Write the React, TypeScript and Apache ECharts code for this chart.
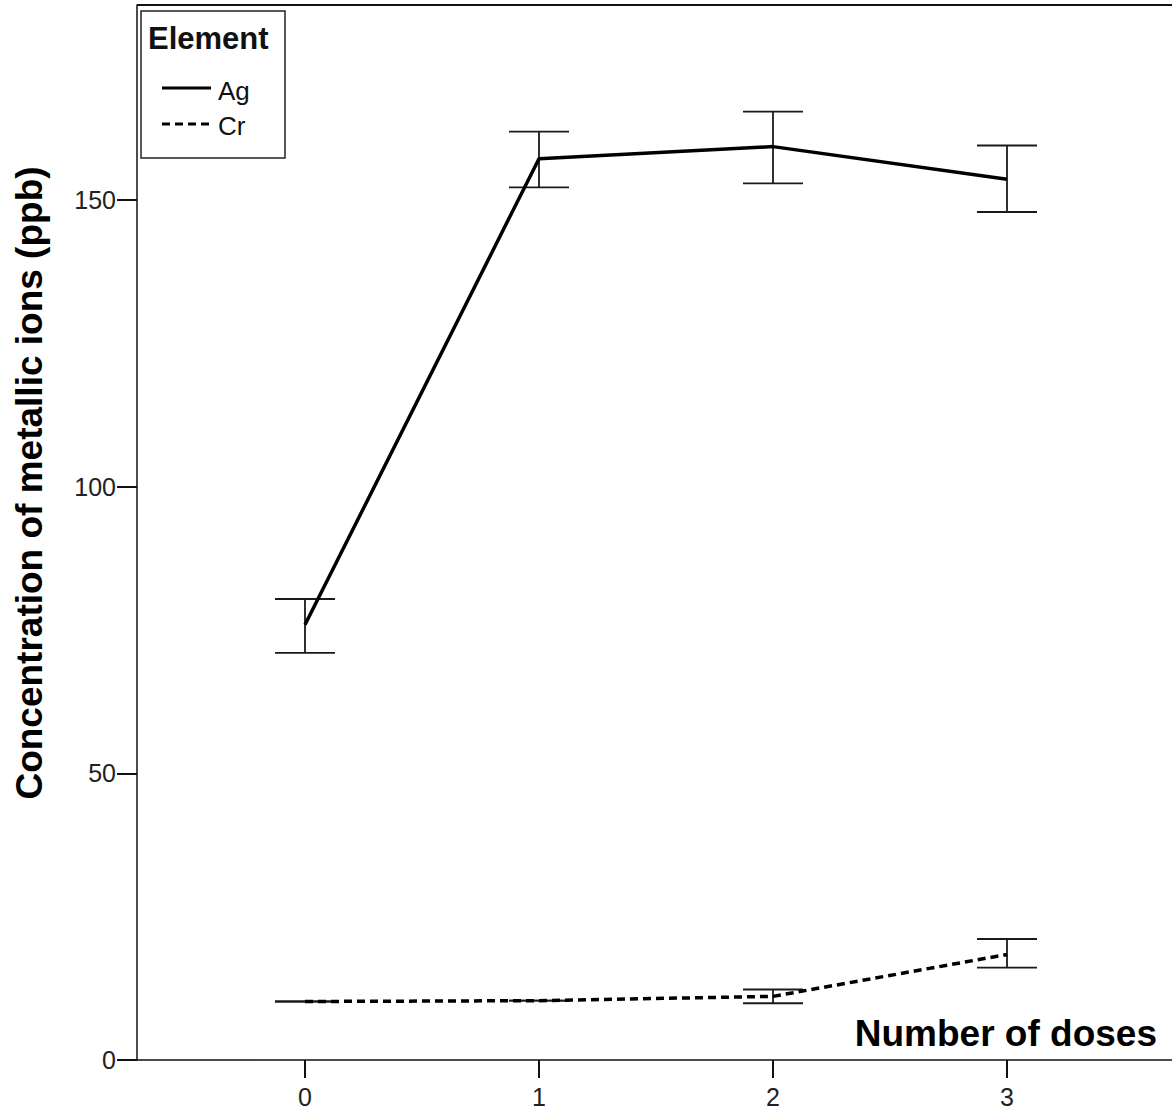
import React, { useEffect, useRef } from "react";
import * as echarts from "echarts";

const doses = [0, 1, 2, 3];
const agMean = [75.9, 157.2, 159.3, 153.6];
const agLow = [71.0, 152.2, 152.9, 147.9];
const agHigh = [80.4, 161.9, 165.4, 159.5];
const crMean = [10.2, 10.35, 11.1, 18.4];
const crLow = [10.2, 10.35, 9.9, 16.1];
const crHigh = [10.2, 10.35, 12.3, 21.1];
const xTicks = [0, 1, 2, 3];
const yTicks = [0, 50, 100, 150];

const FONT = "'Liberation Sans', Arial, sans-serif";

function errorBarSeries(name: string, low: number[], high: number[]) {
  return {
    type: "custom",
    name,
    encode: { x: 0, y: [1, 2] },
    data: doses.map((d, i) => [d, low[i], high[i]]),
    z: 3,
    silent: true,
    renderItem: (params: any, api: any) => {
      const x = api.value(0);
      const lo = api.coord([x, api.value(1)]);
      const hi = api.coord([x, api.value(2)]);
      const hw = 30;
      const style = { stroke: "#1a1a1a", lineWidth: 1.8 };
      return {
        type: "group",
        children: [
          { type: "line", shape: { x1: lo[0], y1: lo[1], x2: hi[0], y2: hi[1] }, style },
          { type: "line", shape: { x1: lo[0] - hw, y1: lo[1], x2: lo[0] + hw, y2: lo[1] }, style },
          { type: "line", shape: { x1: hi[0] - hw, y1: hi[1], x2: hi[0] + hw, y2: hi[1] }, style },
        ],
      };
    },
  };
}

export default function App() {
  const ref = useRef<HTMLDivElement>(null);
  useEffect(() => {
    if (!ref.current) return;
    const chart = echarts.init(ref.current, undefined, { renderer: "svg" });
    chart.setOption({
      animation: false,
      backgroundColor: "#ffffff",
      grid: { left: 137, top: 5, right: 0, bottom: 49, containLabel: false },
      xAxis: {
        type: "value",
        min: -0.7179,
        max: 3.7051,
        axisLine: { show: true, onZero: false, lineStyle: { color: "#111", width: 1.5 } },
        axisTick: { show: true, inside: false, customValues: xTicks, length: 18, lineStyle: { color: "#111", width: 2 } },
        axisLabel: {
          customValues: xTicks,
          fontSize: 25,
          color: "#222",
          margin: 24,
          fontFamily: FONT,
        },
        splitLine: { show: false },
      },
      yAxis: {
        type: "value",
        min: 0,
        max: 184,
        axisLine: { show: true, onZero: false, lineStyle: { color: "#111", width: 1.5 } },
        axisTick: { show: true, inside: false, customValues: yTicks, length: 20, lineStyle: { color: "#111", width: 2 } },
        axisLabel: {
          customValues: yTicks,
          fontSize: 25,
          color: "#222",
          margin: 21,
          fontFamily: FONT,
        },
        splitLine: { show: false },
      },
      series: [
        {
          type: "line",
          name: "Ag",
          data: doses.map((d, i) => [d, agMean[i]]),
          showSymbol: false,
          symbol: "none",
          lineStyle: { color: "#000", width: 3.5, type: "solid" },
          z: 4,
        },
        {
          type: "line",
          name: "Cr",
          data: doses.map((d, i) => [d, crMean[i]]),
          showSymbol: false,
          symbol: "none",
          lineStyle: { color: "#000", width: 3.5, type: [8, 5] },
          z: 4,
        },
        errorBarSeries("Ag error", agLow, agHigh),
        errorBarSeries("Cr error", crLow, crHigh),
      ],
      graphic: [
        {
          type: "line",
          shape: { x1: 137, y1: 5, x2: 1172, y2: 5 },
          style: { stroke: "#111", lineWidth: 2 },
        },
        {
          type: "rect",
          shape: { x: 141, y: 11, width: 144, height: 147 },
          style: { fill: "#fff", stroke: "#222", lineWidth: 1.5 },
          z: 10,
        },
        {
          type: "text",
          x: 148,
          y: 38,
          z: 11,
          style: { text: "Element", font: `bold 31px ${FONT}`, fill: "#111", align: "left", verticalAlign: "middle" },
        },
        {
          type: "line",
          z: 11,
          shape: { x1: 162, y1: 88, x2: 211, y2: 88 },
          style: { stroke: "#000", lineWidth: 3 },
        },
        {
          type: "line",
          z: 11,
          shape: { x1: 162, y1: 124, x2: 210, y2: 124 },
          style: { stroke: "#000", lineWidth: 3, lineDash: [8, 5] },
        },
        {
          type: "text",
          x: 218,
          y: 91,
          z: 11,
          style: { text: "Ag", font: `normal 26px ${FONT}`, fill: "#111", align: "left", verticalAlign: "middle" },
        },
        {
          type: "text",
          x: 218,
          y: 126,
          z: 11,
          style: { text: "Cr", font: `normal 26px ${FONT}`, fill: "#111", align: "left", verticalAlign: "middle" },
        },
        {
          type: "text",
          x: 1157,
          y: 1033,
          style: {
            text: "Number of doses",
            font: `bold 37px ${FONT}`,
            fill: "#000",
            align: "right",
            verticalAlign: "middle",
          },
        },
        {
          type: "text",
          x: 29,
          y: 483,
          rotation: Math.PI / 2,
          style: {
            text: "Concentration of metallic ions (ppb)",
            font: `bold 37px ${FONT}`,
            fill: "#000",
            align: "center",
            verticalAlign: "middle",
          },
        },
      ],
    });
    return () => chart.dispose();
  }, []);
  return (
    <div
      ref={ref}
      style={{ position: "absolute", left: 0, top: 0, width: 1172, height: 1109 }}
    />
  );
}
